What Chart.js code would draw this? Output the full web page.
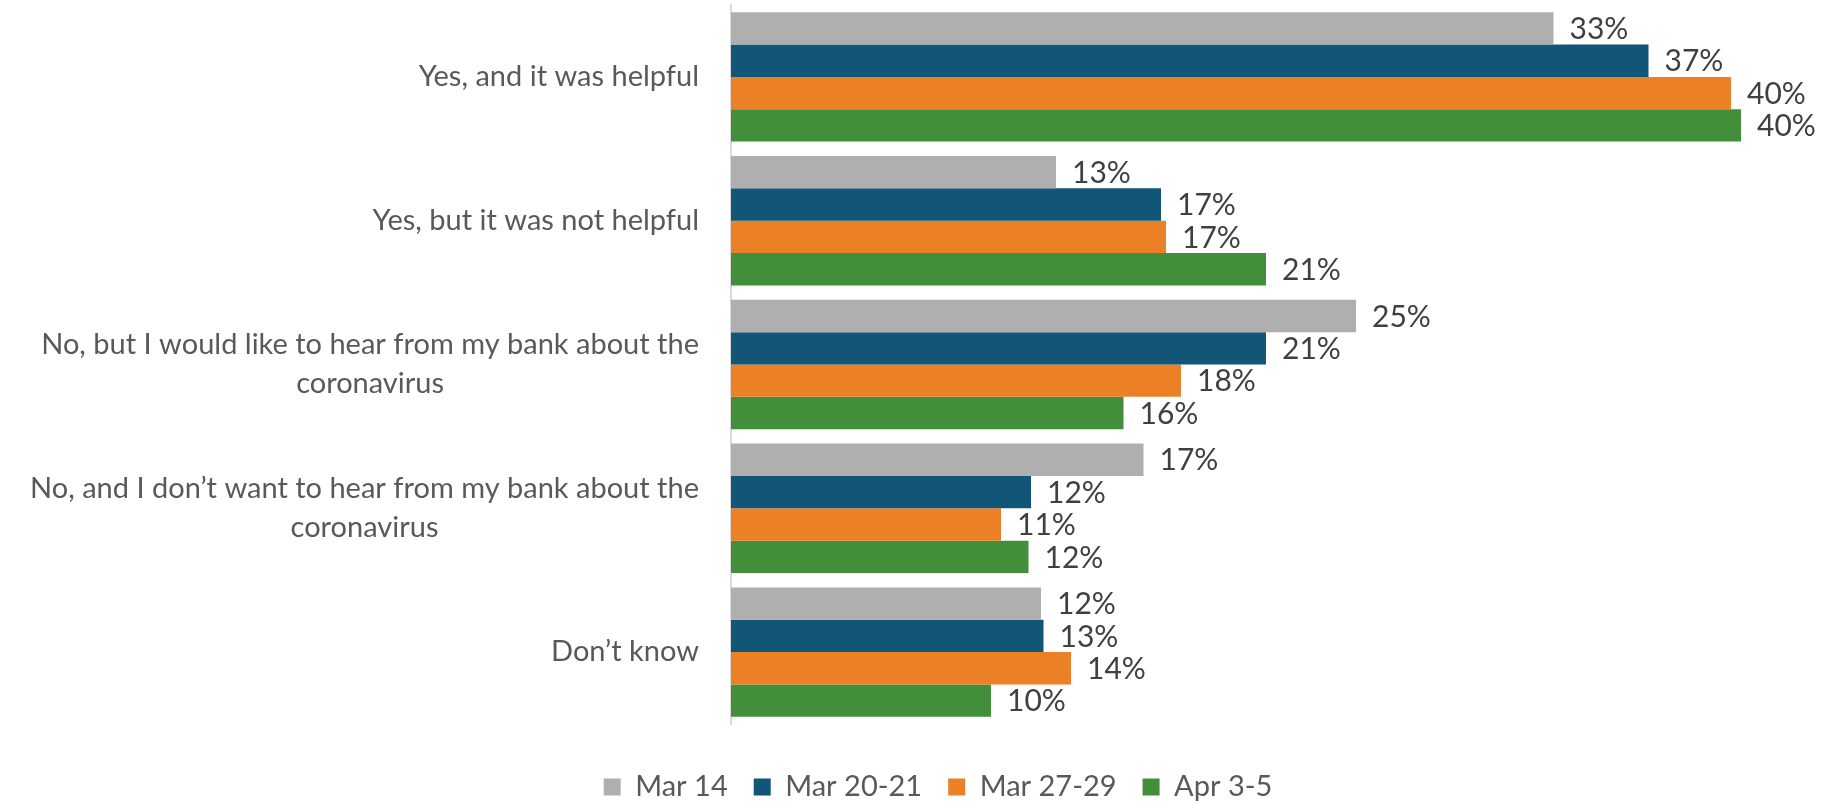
<!DOCTYPE html>
<html>
<head>
<meta charset="utf-8">
<script src="https://cdn.jsdelivr.net/npm/chart.js@4"></script>
<style>
  html, body { margin: 0; padding: 0; background: #fff; }
  #wrap { width: 1831px; height: 804px; }
</style>
</head>
<body>
<div id="wrap"><canvas id="chart"></canvas></div>
<script>
// Categories (multi-line labels are arrays)
const categories = [
  ["Yes, and it was helpful"],
  ["Yes, but it was not helpful"],
  ["No, but I would like to hear from my bank about the", "coronavirus"],
  ["No, and I don’t want to hear from my bank about the", "coronavirus"],
  ["Don’t know"]
];

const seriesNames = ["Mar 14", "Mar 20-21", "Mar 27-29", "Apr 3-5"];

// values in %
const mar14 = [32.9, 13.0, 25.0, 16.5, 12.4];
const mar2021 = [36.7, 17.2, 21.4, 12.0, 12.5];
const mar2729 = [40.0, 17.4, 18.0, 10.8, 13.6];
const apr35 = [40.4, 21.4, 15.7, 11.9, 10.4];

const colors = ["#afafaf", "#115677", "#ec8027", "#428e3a"];
const FONT = "Lato";
const CAT_SIZE = 29;
const VAL_SIZE = 30;
const LEGEND_SIZE = 29;

// Data labels next to each bar
const barLabels = {
  id: "barLabels",
  afterDatasetsDraw(chart) {
    const ctx = chart.ctx;
    ctx.save();
    ctx.font = VAL_SIZE + "px " + FONT;
    ctx.fillStyle = "#404040";
    ctx.textAlign = "left";
    ctx.textBaseline = "middle";
    chart.data.datasets.forEach((ds, di) => {
      chart.getDatasetMeta(di).data.forEach((bar, i) => {
        ctx.fillText(Math.round(ds.data[i]) + "%", bar.x + 16, bar.y + 1);
      });
    });
    ctx.restore();
  }
};

// Category labels: block right-aligned, lines centred inside the block
const catLabels = {
  id: "catLabels",
  afterDraw(chart) {
    const ctx = chart.ctx;
    const y = chart.scales.y;
    const right = chart.chartArea.left - 32;
    const lh = 39;
    ctx.save();
    ctx.font = CAT_SIZE + "px " + FONT;
    ctx.fillStyle = "#595959";
    ctx.textAlign = "center";
    ctx.textBaseline = "middle";
    categories.forEach((lines, i) => {
      const cy = y.getPixelForTick(i);
      const w = Math.max(...lines.map(l => ctx.measureText(l).width));
      const cx = right - w / 2;
      lines.forEach((l, j) => {
        ctx.fillText(l, cx, cy + (j - (lines.length - 1) / 2) * lh);
      });
    });
    ctx.restore();
  }
};

new Chart(document.getElementById("chart"), {
  type: "bar",
  data: {
    labels: categories,
    datasets: [
      { label: seriesNames[0], data: mar14, backgroundColor: colors[0] },
      { label: seriesNames[1], data: mar2021, backgroundColor: colors[1] },
      { label: seriesNames[2], data: mar2729, backgroundColor: colors[2] },
      { label: seriesNames[3], data: apr35, backgroundColor: colors[3] }
    ]
  },
  options: {
    indexAxis: "y",
    responsive: true,
    maintainAspectRatio: false,
    animation: false,
    datasets: { bar: { categoryPercentage: 0.9, barPercentage: 1.0 } },
    layout: { padding: { left: 45, right: 0, top: 5, bottom: -7.5 } },
    scales: {
      x: {
        min: 0,
        max: 44,
        ticks: { display: false },
        grid: { display: false },
        border: { display: false },
        afterFit(scale) { scale.height = 22.5; }
      },
      y: {
        ticks: { display: false },
        grid: { display: false },
        border: { display: true, color: "#d9d9d9", width: 2 },
        afterFit(scale) { scale.width = 731 - 45; }
      }
    },
    plugins: {
      legend: {
        position: "bottom",
        labels: {
          boxWidth: 17,
          boxHeight: 17,
          padding: 26,
          color: "#595959",
          font: { family: FONT, size: LEGEND_SIZE }
        }
      },
      tooltip: { enabled: false }
    }
  },
  plugins: [barLabels, catLabels]
});
</script>
</body>
</html>
